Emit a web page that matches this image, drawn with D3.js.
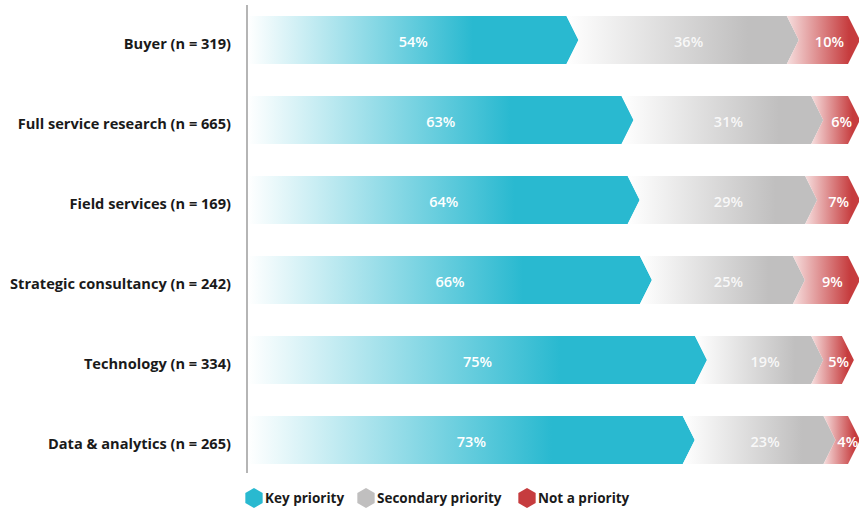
<!DOCTYPE html>
<html>
<head>
<meta charset="utf-8">
<script src="https://cdn.jsdelivr.net/npm/d3@7"></script>
<style>
  body { margin: 0; background: #fff; }
  svg { display: block; font-family: "Open Sans", Lato, sans-serif; }
</style>
</head>
<body>
<div id="chart"></div>
<script>
// データ
const categories = ["Buyer (n = 319)", "Full service research (n = 665)", "Field services (n = 169)",
  "Strategic consultancy (n = 242)", "Technology (n = 334)", "Data & analytics (n = 265)"];
const seriesNames = ["Key priority", "Secondary priority", "Not a priority"];
const keyPriority = [54, 63, 64, 66, 75, 73];
const secondaryPriority = [36, 31, 29, 25, 19, 23];
const notPriority = [10, 6, 7, 9, 5, 4];

const width = 859, height = 510;
const colors = ["#29b9d0", "#c0bfbf", "#c63c3e"];
// グラデーションの開始色と、濃い色になる位置
const startColors = ["#ffffff", "#ffffff", "#f6dede"];
const fullAt = ["68%", "78%", "85%"];

const svg = d3.select("#chart").append("svg")
    .attr("width", width)
    .attr("height", height);

// 矢印の先端までを値の幅とする
const x = d3.scaleLinear().domain([0, 100]).range([248, 860]);
const y = d3.scaleBand().domain(categories).range([0, 480]).paddingInner(0.4).paddingOuter(0.2);
const tip = 12;

// グラデーション定義
const defs = svg.append("defs");
seriesNames.forEach((s, i) => {
    const g = defs.append("linearGradient")
        .attr("id", "grad" + i)
        .attr("x1", 0).attr("x2", 1).attr("y1", 0).attr("y2", 0);
    g.append("stop").attr("offset", "0%").attr("stop-color", startColors[i]);
    g.append("stop").attr("offset", fullAt[i]).attr("stop-color", colors[i]);
    g.append("stop").attr("offset", "100%").attr("stop-color", colors[i]);
});

// 軸の線
svg.append("line")
    .attr("x1", 247).attr("x2", 247)
    .attr("y1", 5).attr("y2", 473)
    .attr("stroke", "#b5b5b5")
    .attr("stroke-width", 2);

const rows = categories.map((c, i) => {
    const vals = [keyPriority[i], secondaryPriority[i], notPriority[i]];
    let acc = 0;
    return {cat: c, segs: vals.map((v, j) => {
        const s = {v: v, j: j, x0: acc, x1: acc + v};
        acc += v;
        return s;
    })};
});

// 矢印型のセグメント
function arrowPath(d, top, bot) {
    const mid = (top + bot) / 2;
    const b = x(d.x1) - tip;
    if (d.j === 0) {
        const a = x(d.x0);
        return `M${a},${top}L${b},${top}L${b + tip},${mid}L${b},${bot}L${a},${bot}Z`;
    }
    const a = x(d.x0) - tip;
    return `M${a},${top}L${b},${top}L${b + tip},${mid}L${b},${bot}L${a},${bot}L${a + tip},${mid}Z`;
}

const rowG = svg.selectAll(".row")
    .data(rows)
    .enter()
    .append("g")
    .attr("class", "row");

rowG.each(function(r) {
    const g = d3.select(this);
    const top = y(r.cat), bot = top + y.bandwidth(), mid = top + y.bandwidth() / 2;

    g.selectAll("path")
        .data(r.segs)
        .enter()
        .append("path")
        .attr("d", d => arrowPath(d, top, bot))
        .attr("fill", d => `url(#grad${d.j})`);

    g.selectAll(".val")
        .data(r.segs)
        .enter()
        .append("text")
        .attr("class", "val")
        .attr("x", d => (x(d.x0) + x(d.x1)) / 2)
        .attr("y", mid + 6.5)
        .attr("text-anchor", "middle")
        .attr("font-size", "14.5px")
        .attr("font-weight", 600)
        .attr("fill", "#fff")
        .attr("fill-opacity", d => d.j === 1 ? 0.85 : 1)
        .text(d => d.v + "%");

    // カテゴリ名
    g.append("text")
        .attr("x", 231)
        .attr("y", mid + 8.5)
        .attr("text-anchor", "end")
        .attr("font-size", "14.6px")
        .attr("font-weight", "bold")
        .attr("fill", "#1a1a1a")
        .text(r.cat);
});

// 凡例
const legendX = [254, 366, 527];
const hex = (cx, cy, r) => d3.range(6).map(k => {
    const ang = Math.PI / 3 * k - Math.PI / 2;
    return [cx + r * Math.cos(ang), cy + r * Math.sin(ang)];
});
const legend = svg.selectAll(".legend")
    .data(seriesNames)
    .enter()
    .append("g")
    .attr("class", "legend");

legend.append("polygon")
    .attr("points", (d, i) => hex(legendX[i], 498, 10).join(" "))
    .attr("fill", (d, i) => colors[i]);

legend.append("text")
    .attr("x", (d, i) => legendX[i] + 11)
    .attr("y", 503)
    .attr("font-size", "13.5px")
    .attr("font-weight", "bold")
    .attr("fill", "#1a1a1a")
    .text(d => d);
</script>
</body>
</html>
